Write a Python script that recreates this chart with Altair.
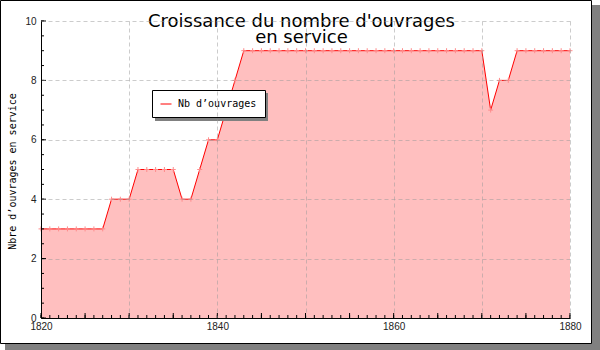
import altair as alt
import pandas as pd

years = list(range(1820, 1881))
counts = ([3] * 8 + [4] * 3 + [5] * 5 + [4] * 2 + [5] + [6] * 2 + [7] + [8]
          + [9] * 28 + [7] + [8] * 2 + [9] * 7)
series_name = "Nb d’ouvrages"

x_grid_values = list(range(1820, 1881, 10))
y_grid_values = [0, 2, 4, 6, 8, 10]
x_minor_ticks = list(range(1820, 1881, 1))
x_major_ticks = list(range(1820, 1881, 5))
y_minor_ticks = [i / 2 for i in range(0, 21)]
y_major_ticks = [0, 2, 4, 6, 8, 10]

df = pd.DataFrame({"year": years, "count": counts, "series": [series_name] * len(years)})
one = pd.DataFrame({"a": [0]})

xs = alt.Scale(domain=[1820, 1880], nice=False, zero=False)
ys = alt.Scale(domain=[0, 10], nice=False)

# decorative frame + shadow
shadow = alt.Chart(one).mark_rect(fill="#808080", stroke=None).encode(
    x=alt.value(-36), x2=alt.value(559), y=alt.value(-16), y2=alt.value(329))
frame = alt.Chart(one).mark_rect(fill="white", stroke="black", strokeWidth=1).encode(
    x=alt.value(-40.5), x2=alt.value(550.5), y=alt.value(-20.5), y2=alt.value(322.5))

base = alt.Chart(df)
area = base.mark_area(color="#ffbfbf", opacity=1).encode(
    x=alt.X("year:Q", scale=xs,
            axis=alt.Axis(values=x_grid_values, format="d",
                          labelExpr="datum.value % 20 == 0 ? datum.label : ''",
                          title=None, grid=True, ticks=False, zindex=1,
                          domainColor="black", domainWidth=1,
                          gridColor="#999999", gridOpacity=0.5, gridDash=[4, 3],
                          labelFont="Liberation Sans", labelFontSize=10,
                          labelColor="#222222", labelPadding=3, labelFlush=False)),
    y=alt.Y("count:Q", scale=ys,
            axis=alt.Axis(values=y_grid_values, title="Nbre d’ouvrages en service",
                          grid=True, ticks=False, zindex=1,
                          domainColor="black", domainWidth=1,
                          gridColor="#999999", gridOpacity=0.5, gridDash=[4, 3],
                          labelFont="Liberation Sans", labelFontSize=10,
                          labelColor="#222222", labelPadding=5,
                          titleFont="DejaVu Sans Mono", titleFontSize=10,
                          titleFontWeight="normal", titleColor="black",
                          titleX=-29, titleY=150, titleBaseline="middle")),
)
line = base.mark_line(strokeWidth=1).encode(
    x=alt.X("year:Q", scale=xs),
    y=alt.Y("count:Q", scale=ys),
    color=alt.Color("series:N", scale=alt.Scale(range=["#ff0000"]),
                    legend=alt.Legend(title=None, orient="none", legendX=111, legendY=69,
                                      strokeColor="black", fillColor="white",
                                      padding=8, symbolType="stroke", symbolSize=121,
                                      symbolStrokeWidth=1, labelFont="DejaVu Sans Mono",
                                      labelFontSize=10, labelColor="black",
                                      labelOffset=6, cornerRadius=0)),
)
points = base.mark_point(shape="M-1,0L1,0M0,-1L0,1", size=25, filled=False,
                         stroke="#ff8c8c", strokeWidth=1, opacity=1).encode(
    x=alt.X("year:Q", scale=xs), y=alt.Y("count:Q", scale=ys))

legend_shadow = alt.Chart(one).mark_rect(fill="#808080").encode(
    x=alt.value(114), x2=alt.value(227), y=alt.value(72), y2=alt.value(100))

xt_minor = alt.Chart(pd.DataFrame({"year": x_minor_ticks})).mark_rule(color="black", strokeWidth=1).encode(
    x=alt.X("year:Q", scale=xs), y=alt.value(297), y2=alt.value(294))
xt_major = alt.Chart(pd.DataFrame({"year": x_major_ticks})).mark_rule(color="black", strokeWidth=1).encode(
    x=alt.X("year:Q", scale=xs), y=alt.value(297), y2=alt.value(292))
yt_minor = alt.Chart(pd.DataFrame({"count": y_minor_ticks})).mark_rule(color="black", strokeWidth=1).encode(
    y=alt.Y("count:Q", scale=ys), x=alt.value(0), x2=alt.value(3))
yt_major = alt.Chart(pd.DataFrame({"count": y_major_ticks})).mark_rule(color="black", strokeWidth=1).encode(
    y=alt.Y("count:Q", scale=ys), x=alt.value(0), x2=alt.value(5))

chart = alt.layer(shadow, frame, area, line, points, legend_shadow,
                  xt_minor, xt_major, yt_minor, yt_major).properties(
    width=529, height=297,
    autosize=alt.AutoSizeParams(type="none"),
    padding={"left": 41, "top": 21, "right": 30, "bottom": 32},
    background="white",
    title=alt.TitleParams(text=["Croissance du nombre d'ouvrages", "en service"],
                          font="DejaVu Sans", fontSize=18, fontWeight="normal",
                          color="black", anchor="middle", lineHeight=16,
                          offset=0, dy=47, dx=-4),
).configure_view(stroke=None)

chart.save("out.html", embed_options={"renderer": "svg", "actions": False})
